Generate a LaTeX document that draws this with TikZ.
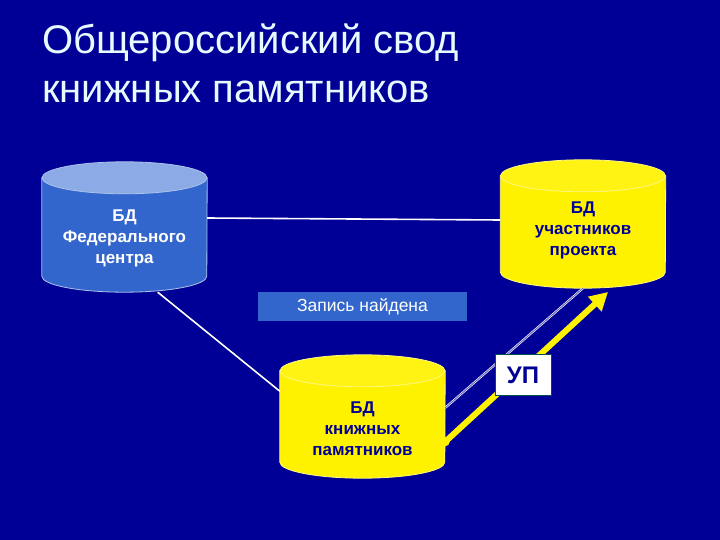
\documentclass[tikz,border=0pt]{standalone}
\usepackage{fontspec}
\setmainfont{Liberation Sans}
\usetikzlibrary{positioning,arrows.meta}

\definecolor{slidebg}{RGB}{0,0,150}
\definecolor{dbblue}{RGB}{51,102,204}
\definecolor{dbbluetop}{RGB}{140,170,230}
\definecolor{titlecol}{RGB}{230,250,255}

% cylinder drawn round a named box: name, body, top, rim
\newcommand\drawdb[4]{%
  \filldraw[fill=#2, draw=#4, line width=0.8pt]
    ([yshift=-16pt]#1.north west) -- ([yshift=16pt]#1.south west)
    arc[start angle=180, end angle=360, x radius=82.5pt, y radius=16pt]
    -- ([yshift=-16pt]#1.north east) -- cycle;
  \filldraw[fill=#3, draw=#4, line width=0.8pt]
    ([yshift=-16pt]#1.north) ellipse[x radius=82.5pt, y radius=16pt];
}

\begin{document}
\begin{tikzpicture}[x=1pt, y=-1pt,
  title/.style={anchor=base west, inner sep=0pt, text=titlecol, font=\fontsize{40}{46}\selectfont},
  dbbox/.style={inner sep=0pt, minimum width=165pt},
  dbtext/.style={align=center, inner sep=0pt, font=\bfseries\fontsize{17}{21}\selectfont},
  link/.style={white, line width=1.6pt}]

% Background
\fill[slidebg] (0,0) rectangle (720,540);
\useasboundingbox (0,0) rectangle (720,540);

% Title
\node[title] (title1) at (42,54) {Общероссийский свод};
\node[title] (title2) at (42,103) {книжных памятников};

% Databases
\node[dbbox, minimum height=130pt] (fed) at (124.5,227) {};
\node[dbbox, minimum height=128pt] (part) at (583,224) {};
\node[dbbox, minimum height=123pt] (books) at (362.5,416.5) {};
\drawdb{fed}{dbblue}{dbbluetop}{white!60!dbblue}
\drawdb{part}{yellow}{yellow!92!white}{yellow!50!white}
\drawdb{books}{yellow}{yellow!92!white}{yellow!50!white}
\node[dbtext, text=white] (fedlbl) at ([yshift=-11pt]fed.center) {БД\\Федерального\\центра};
\node[dbtext, text=slidebg] (partlbl) at ([yshift=-6pt]part.center) {БД\\участников\\проекта};
\node[dbtext, text=slidebg] (bookslbl) at ([yshift=-12pt]books.center) {БД\\книжных\\памятников};

% Record found
\node[fill=dbblue, text=white, minimum width=209pt, minimum height=29pt, inner sep=0pt,
  font=\fontsize{17.5}{20}\selectfont] (found) at (362.5,306.5) {Запись найдена};

% Connections
\draw[link] ([yshift=9pt]fed.east) -- ([yshift=4pt]part.west);
\draw[link] (fed.-63) -- (books.163);
\draw[draw=white, double=slidebg!60!white, double distance=1pt, line width=0.6pt] (books.6) -- (part.south);
\coordinate (tipUP) at (608,292);
\draw[yellow, line width=6pt, -{Triangle[length=18pt,width=19pt]}] (books.-17) -- (tipUP);
\fill[yellow] (books.-17) circle (4.5pt);

% UP label
\node[fill=white, draw=teal!60!black, text=slidebg, minimum width=56pt, minimum height=41pt,
  inner sep=0pt, font=\bfseries\fontsize{24}{28}\selectfont] (up) at (523,375) {УП};
\end{tikzpicture}
\end{document}
